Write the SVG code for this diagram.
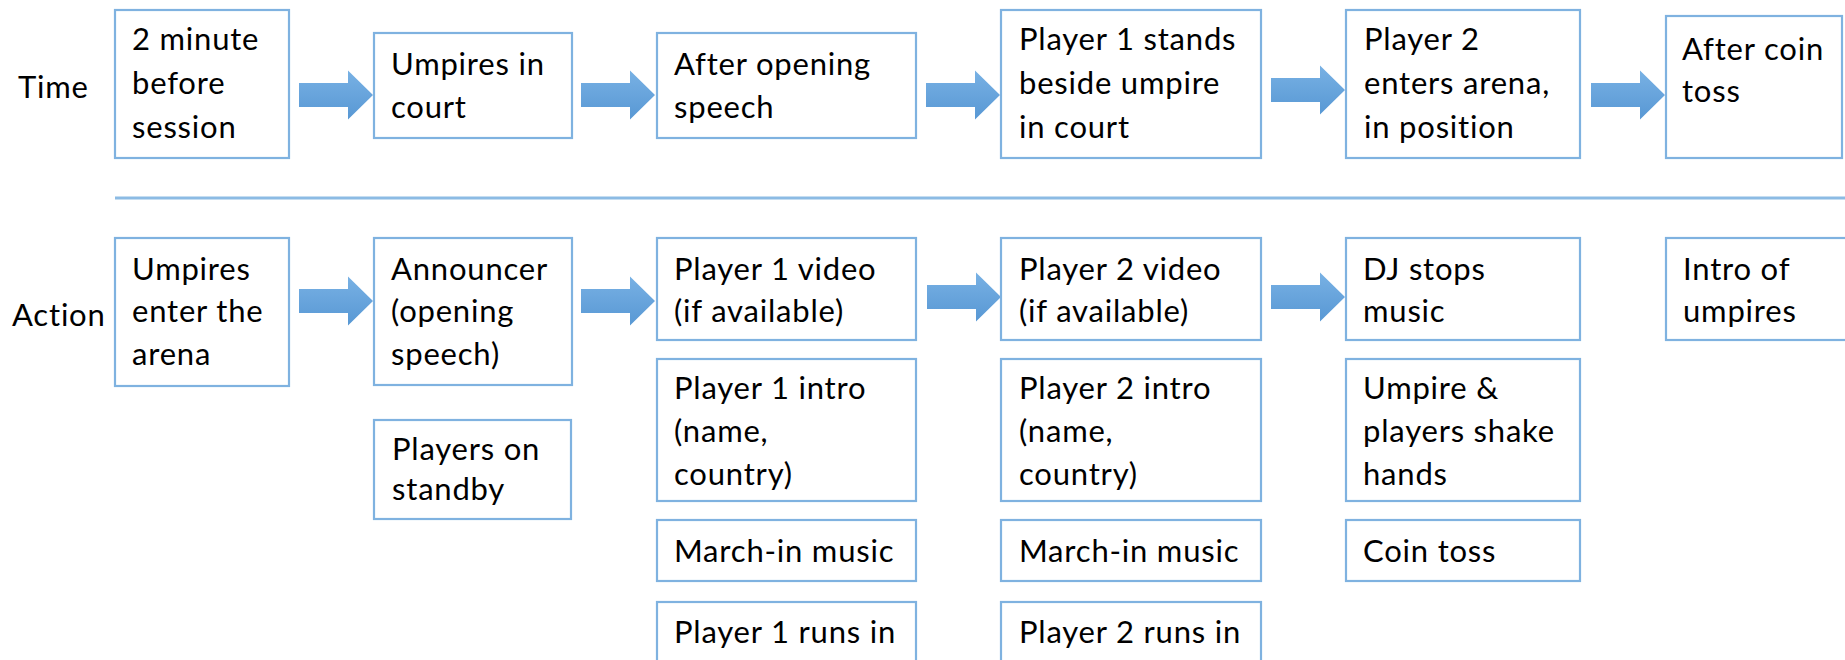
<svg xmlns="http://www.w3.org/2000/svg" width="1845" height="660" viewBox="0 0 1845 660">
<style>
  .box { fill: #ffffff; stroke: #7FB2E0; stroke-width: 2.2; }
  .t { font-family: Lato, "Open Sans", "Liberation Sans", sans-serif; font-size: 31px; fill: #000000; letter-spacing: 0.8px; }
  .arrow { fill: url(#ag); }
  .sep { stroke: #8CBBE4; stroke-width: 3; }
</style>
<defs>
  <linearGradient id="ag" x1="0" y1="0" x2="0" y2="1">
    <stop offset="0" stop-color="#78B1E4"/>
    <stop offset="1" stop-color="#5898D4"/>
  </linearGradient>
  <path id="arr" d="M0,-12 H49 V-24.5 L74,0 L49,24.5 V12 H0 Z"/>
</defs>
<rect width="1845" height="660" fill="#ffffff"/>

<g id="labels">
  <text class="t" x="18" y="98">Time</text>
  <text class="t" x="12" y="326">Action</text>
</g>

<line id="separator" class="sep" x1="115" y1="198" x2="1845" y2="198"/>

<g id="connectors">
  <use href="#arr" class="arrow" x="299" y="95"/>
  <use href="#arr" class="arrow" x="581" y="95"/>
  <use href="#arr" class="arrow" x="926" y="95"/>
  <use href="#arr" class="arrow" x="1271" y="90"/>
  <use href="#arr" class="arrow" x="1591" y="95"/>
  <use href="#arr" class="arrow" x="299" y="301"/>
  <use href="#arr" class="arrow" x="581" y="301"/>
  <use href="#arr" class="arrow" x="927" y="297"/>
  <use href="#arr" class="arrow" x="1271" y="297"/>
</g>

<g id="t1"><rect class="box" x="115" y="10" width="174" height="148"/>
  <text class="t" x="132" y="50">2 minute</text><text class="t" x="132" y="94">before</text><text class="t" x="132" y="138">session</text></g>
<g id="t2"><rect class="box" x="374" y="33" width="198" height="105"/>
  <text class="t" x="391" y="75">Umpires in</text><text class="t" x="391" y="118">court</text></g>
<g id="t3"><rect class="box" x="657" y="33" width="259" height="105"/>
  <text class="t" x="674" y="75">After opening</text><text class="t" x="674" y="118">speech</text></g>
<g id="t4"><rect class="box" x="1001" y="10" width="260" height="148"/>
  <text class="t" x="1019" y="50">Player 1 stands</text><text class="t" x="1019" y="94">beside umpire</text><text class="t" x="1019" y="138">in court</text></g>
<g id="t5"><rect class="box" x="1346" y="10" width="234" height="148"/>
  <text class="t" x="1364" y="50">Player 2</text><text class="t" x="1364" y="94">enters arena,</text><text class="t" x="1364" y="138">in position</text></g>
<g id="t6"><rect class="box" x="1666" y="16" width="176" height="142"/>
  <text class="t" x="1682" y="60">After coin</text><text class="t" x="1682" y="102">toss</text></g>

<g id="a1"><rect class="box" x="115" y="238" width="174" height="148"/>
  <text class="t" x="132" y="280">Umpires</text><text class="t" x="132" y="322">enter the</text><text class="t" x="132" y="365">arena</text></g>
<g id="a2"><rect class="box" x="374" y="238" width="198" height="147"/>
  <text class="t" x="391" y="280">Announcer</text><text class="t" x="391" y="322">(opening</text><text class="t" x="391" y="365">speech)</text></g>
<g id="a2b"><rect class="box" x="374" y="420" width="197" height="99"/>
  <text class="t" x="392" y="460">Players on</text><text class="t" x="392" y="500">standby</text></g>

<g id="a3"><rect class="box" x="657" y="238" width="259" height="102"/>
  <text class="t" x="674" y="280">Player 1 video</text><text class="t" x="674" y="322">(if available)</text></g>
<g id="a3b"><rect class="box" x="657" y="359" width="259" height="142"/>
  <text class="t" x="674" y="399">Player 1 intro</text><text class="t" x="674" y="442">(name,</text><text class="t" x="674" y="485">country)</text></g>
<g id="a3c"><rect class="box" x="657" y="520" width="259" height="61"/>
  <text class="t" x="674" y="562">March-in music</text></g>
<g id="a3d"><rect class="box" x="657" y="602" width="259" height="80"/>
  <text class="t" x="674" y="643">Player 1 runs in</text></g>

<g id="a4"><rect class="box" x="1001" y="238" width="260" height="102"/>
  <text class="t" x="1019" y="280">Player 2 video</text><text class="t" x="1019" y="322">(if available)</text></g>
<g id="a4b"><rect class="box" x="1001" y="359" width="260" height="142"/>
  <text class="t" x="1019" y="399">Player 2 intro</text><text class="t" x="1019" y="442">(name,</text><text class="t" x="1019" y="485">country)</text></g>
<g id="a4c"><rect class="box" x="1001" y="520" width="260" height="61"/>
  <text class="t" x="1019" y="562">March-in music</text></g>
<g id="a4d"><rect class="box" x="1001" y="602" width="260" height="80"/>
  <text class="t" x="1019" y="643">Player 2 runs in</text></g>

<g id="a5"><rect class="box" x="1346" y="238" width="234" height="102"/>
  <text class="t" x="1363" y="280">DJ stops</text><text class="t" x="1363" y="322">music</text></g>
<g id="a5b"><rect class="box" x="1346" y="359" width="234" height="142"/>
  <text class="t" x="1363" y="399">Umpire &amp;</text><text class="t" x="1363" y="442">players shake</text><text class="t" x="1363" y="485">hands</text></g>
<g id="a5c"><rect class="box" x="1346" y="520" width="234" height="61"/>
  <text class="t" x="1363" y="562">Coin toss</text></g>

<g id="a6"><rect class="box" x="1666" y="238" width="200" height="102"/>
  <text class="t" x="1683" y="280">Intro of</text><text class="t" x="1683" y="322">umpires</text></g>
</svg>
